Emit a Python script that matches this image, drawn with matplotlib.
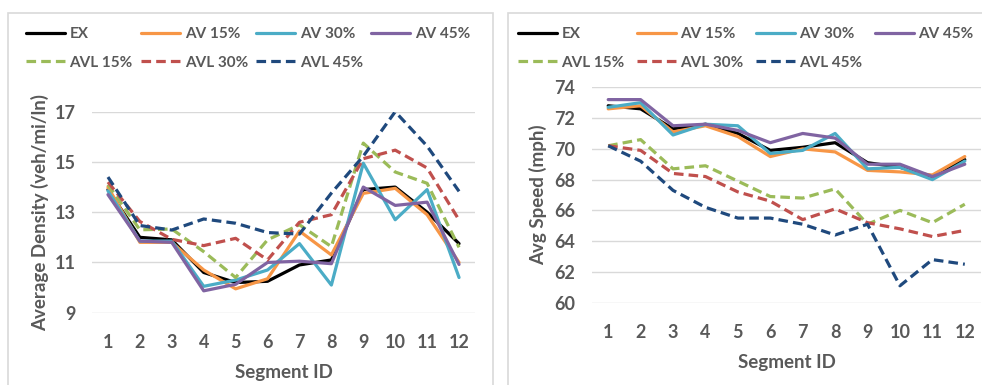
import matplotlib
matplotlib.use("Agg")
import matplotlib.pyplot as plt
from matplotlib.patches import Rectangle

plt.rcParams['font.family'] = ['Lato', 'DejaVu Sans']
plt.rcParams['font.weight'] = 'bold'

segments = list(range(1, 13))
names = ['EX', 'AV 15%', 'AV 30%', 'AV 45%', 'AVL 15%', 'AVL 30%', 'AVL 45%']
colors = ['#000000', '#F79646', '#4BACC6', '#8064A2', '#9BBB59', '#C0504D', '#1F497D']
styles = ['-', '-', '-', '-', '--', '--', '--']

# Average density (veh/mi/ln)
dens_ex = [13.9, 12.0, 11.9, 10.6, 10.2, 10.25, 10.9, 11.1, 13.9, 14.0, 13.0, 11.75]
dens_av15 = [14.0, 11.8, 11.8, 10.7, 9.95, 10.35, 12.25, 11.3, 13.75, 13.95, 12.9, 11.0]
dens_av30 = [13.85, 11.85, 11.85, 10.05, 10.3, 10.7, 11.75, 10.1, 14.95, 12.7, 13.9, 10.4]
dens_av45 = [13.7, 11.85, 11.8, 9.87, 10.13, 11.0, 11.05, 10.95, 14.0, 13.27, 13.4, 10.92]
dens_avl15 = [14.1, 12.3, 12.33, 11.43, 10.4, 11.9, 12.5, 11.63, 15.75, 14.6, 14.15, 11.6]
dens_avl30 = [14.2, 12.63, 11.92, 11.67, 11.96, 11.1, 12.6, 12.9, 15.13, 15.47, 14.76, 12.69]
dens_avl45 = [14.4, 12.47, 12.29, 12.73, 12.56, 12.19, 12.13, 13.76, 15.23, 17.0, 15.63, 13.83]

# Average speed (mph)
spd_ex = [72.8, 72.6, 71.3, 71.6, 71.0, 69.9, 70.1, 70.4, 69.1, 68.8, 68.2, 69.3]
spd_av15 = [72.6, 72.8, 71.1, 71.5, 70.8, 69.5, 70.0, 69.8, 68.6, 68.5, 68.3, 69.5]
spd_av30 = [72.7, 73.0, 70.9, 71.6, 71.5, 69.7, 69.9, 71.0, 68.7, 68.8, 68.0, 69.2]
spd_av45 = [73.2, 73.2, 71.5, 71.6, 71.2, 70.4, 71.0, 70.7, 69.0, 69.0, 68.2, 69.0]
spd_avl15 = [70.2, 70.6, 68.7, 68.9, 67.9, 66.9, 66.8, 67.4, 65.1, 66.0, 65.2, 66.4]
spd_avl30 = [70.2, 69.9, 68.4, 68.2, 67.2, 66.6, 65.4, 66.1, 65.2, 64.8, 64.3, 64.7]
spd_avl45 = [70.2, 69.2, 67.3, 66.2, 65.5, 65.5, 65.1, 64.4, 65.1, 61.1, 62.8, 62.5]

density = [dens_ex, dens_av15, dens_av30, dens_av45, dens_avl15, dens_avl30, dens_avl45]
speed = [spd_ex, spd_av15, spd_av30, spd_av45, spd_avl15, spd_avl30, spd_avl45]

W, H = 982, 385
TXT = '#595959'
GRID = '#D9D9D9'
fig = plt.figure(figsize=(W / 100, H / 100), dpi=100)

# chart area borders
fig.patches.append(Rectangle((8 / W, -0.05), 485 / W, 1.05 - 13 / H, transform=fig.transFigure,
                             fill=False, edgecolor=GRID, linewidth=1.2))
fig.patches.append(Rectangle((508 / W, -0.05), 0.6, 1.05 - 13 / H, transform=fig.transFigure,
                             fill=False, edgecolor=GRID, linewidth=1.2))


def draw(rect, series, ylim, yticks, ylabel, leg_xy, pads):
    ax = fig.add_axes([rect[0] / W, 1 - rect[3] / H, (rect[2] - rect[0]) / W, (rect[3] - rect[1]) / H])
    lines = []
    for vals, name, c, ls in zip(series, names, colors, styles):
        l, = ax.plot(segments, vals, color=c, linestyle=ls, linewidth=2.3, label=name,
                     dashes=(3, 1.6) if ls == '--' else (None, None), solid_capstyle='round')
        lines.append(l)
    ax.set_xlim(0.5, 12.5)
    ax.set_ylim(*ylim)
    ax.set_yticks(yticks)
    ax.set_xticks(segments)
    ax.grid(axis='y', color=GRID, linewidth=1)
    ax.set_axisbelow(True)
    for s in ax.spines.values():
        s.set_visible(False)
    ax.tick_params(length=0, labelsize=13, colors=TXT)
    ax.tick_params(axis='y', pad=12)
    ax.tick_params(axis='x', pad=15)
    for t in ax.get_xticklabels() + ax.get_yticklabels():
        t.set_fontweight('bold')
    ax.set_xlabel('Segment ID', fontsize=13.5, color=TXT, fontweight='bold', labelpad=pads[1])
    ax.set_ylabel(ylabel, fontsize=13.5, color=TXT, fontweight='bold', labelpad=pads[0])
    order = [0, 4, 1, 5, 2, 6, 3]
    leg = fig.legend([lines[i] for i in order], [names[i] for i in order], ncol=4,
                     loc='upper left', bbox_to_anchor=(leg_xy[0] / W, 1 - leg_xy[1] / H),
                     frameon=False, handlelength=2.55, handletextpad=0.3,
                     columnspacing=pads[2], labelspacing=0.95, borderpad=0, borderaxespad=0,
                     prop={'weight': 'bold', 'size': 11})
    for t in leg.get_texts():
        t.set_color(TXT)
    return ax


draw((92, 111.7, 475, 312.7), density, (9, 17), [9, 11, 13, 15, 17],
     'Average Density (veh/mi/ln)', (26, 27), (4, 10, 0.55))
draw((592, 87.3, 981, 302.7), speed, (60, 74), [60, 62, 64, 66, 68, 70, 72, 74],
     'Avg Speed (mph)', (518, 27), (5, 10, 0.8))

fig.savefig('out.png', dpi=100)
